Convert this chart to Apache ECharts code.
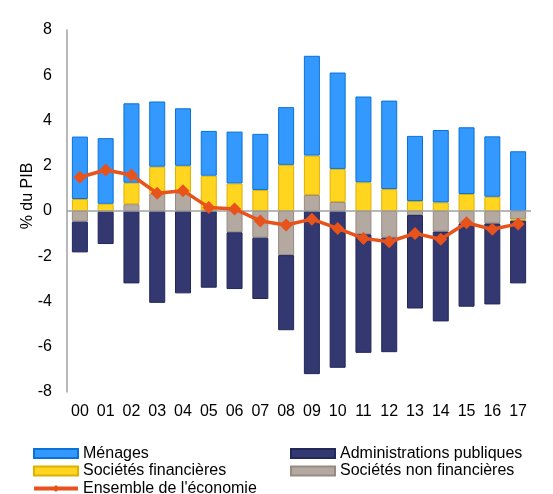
<!DOCTYPE html>
<html lang="fr">
<head>
    <meta charset="UTF-8">
    <title>Capacité de financement</title>
    <script src="https://cdn.jsdelivr.net/npm/echarts@6/dist/echarts.min.js"></script>
    <style>
        html, body { margin: 0; padding: 0; background: #fff; }
        #main { width: 553px; height: 494px; }
    </style>
</head>
<body>
    <div id="main"></div>
    <script>
    // années (axe x)
    var years = ['00', '01', '02', '03', '04', '05', '06', '07', '08', '09', '10', '11', '12', '13', '14', '15', '16', '17'];
    var yTicks = [-8, -6, -4, -2, 0, 2, 4, 6, 8];

    // contributions en % du PIB
    var snf = [-0.47, -0.03, 0.30, 0.78, 0.80, 0.02, -0.94, -1.18, -1.95, 0.71, 0.40, -1.03, -1.18, -0.18, -0.91, -0.55, -0.55, -0.37];
    var sf = [0.53, 0.32, 0.95, 1.18, 1.20, 1.54, 1.22, 0.93, 2.04, 1.74, 1.46, 1.27, 0.97, 0.44, 0.38, 0.75, 0.63, -0.06];
    var menages = [2.76, 2.90, 3.51, 2.88, 2.54, 1.98, 2.29, 2.48, 2.55, 4.41, 4.26, 3.79, 3.91, 2.88, 3.20, 2.95, 2.67, 2.64];
    var apu = [-1.36, -1.43, -3.20, -4.06, -3.64, -3.39, -2.51, -2.71, -3.32, -7.21, -6.93, -5.24, -5.06, -4.13, -3.97, -3.68, -3.58, -2.77];
    var ensemble = [1.49, 1.81, 1.59, 0.78, 0.90, 0.16, 0.09, -0.44, -0.62, -0.36, -0.77, -1.21, -1.36, -0.99, -1.25, -0.52, -0.81, -0.57];

    var font = 'Liberation Sans, Arial, sans-serif';
    var myChart = echarts.init(document.getElementById('main'));

    function barSerie(name, data, color, border) {
        return {
            name: name,
            type: 'bar',
            stack: 'total',
            barWidth: 16,
            data: data,
            itemStyle: { color: color, borderColor: border, borderWidth: 1 }
        };
    }

    var apuSerie = barSerie('Administrations publiques', apu, '#333870', '#22285a');
    // ligne du zéro
    apuSerie.markLine = {
        silent: true,
        symbol: 'none',
        label: { show: false },
        lineStyle: { color: '#a0a0a0', width: 1.5, type: 'solid' },
        data: [{ yAxis: 0 }]
    };

    var legendText = { fontFamily: font, fontSize: 16, color: '#000', lineHeight: 17 };

    var option = {
        animation: false,
        textStyle: { fontFamily: font },
        grid: { left: 67, right: 22, top: 30, bottom: 102 },
        legend: [{
            orient: 'vertical',
            left: 27,
            top: 440,
            height: 70,
            itemWidth: 44,
            itemHeight: 9,
            itemGap: 0.5,
            textStyle: legendText,
            data: [
                { name: 'Ménages', icon: 'rect' },
                { name: 'Sociétés financières', icon: 'rect' },
                { name: "Ensemble de l'économie", lineStyle: { width: 4 } }
            ]
        }, {
            orient: 'vertical',
            left: 285,
            top: 440,
            height: 70,
            itemWidth: 44,
            itemHeight: 9,
            itemGap: 0.5,
            textStyle: legendText,
            data: [
                { name: 'Administrations publiques', icon: 'rect' },
                { name: 'Sociétés non financières', icon: 'rect' }
            ]
        }],
        xAxis: {
            type: 'category',
            data: years,
            axisLine: { show: false, onZero: false },
            axisTick: { show: false },
            axisLabel: { color: '#000', fontSize: 16, margin: 12, interval: 0 }
        },
        yAxis: {
            type: 'value',
            min: yTicks[0],
            max: yTicks[yTicks.length - 1],
            interval: 2,
            name: '% du PIB',
            nameLocation: 'middle',
            nameGap: 31,
            nameMoveOverlap: false,
            nameTextStyle: { color: '#000', fontSize: 16, padding: [0, 0, 0, 30] },
            axisLine: { show: true, lineStyle: { color: '#a0a0a0', width: 1.5 } },
            axisTick: { show: false },
            splitLine: { show: false },
            axisLabel: { color: '#000', fontSize: 16, margin: 15 }
        },
        series: [
            barSerie('Sociétés non financières', snf, '#b3a9a1', '#978a80'),
            barSerie('Sociétés financières', sf, '#ffd520', '#e0b000'),
            barSerie('Ménages', menages, '#3399ff', '#0a72d6'),
            apuSerie,
            {
                name: "Ensemble de l'économie",
                type: 'line',
                data: ensemble,
                symbol: 'diamond',
                symbolSize: 13,
                z: 5,
                lineStyle: { color: '#e8531c', width: 3.5 },
                itemStyle: { color: '#e8531c' }
            }
        ]
    };

    myChart.setOption(option);
    </script>
</body>
</html>
